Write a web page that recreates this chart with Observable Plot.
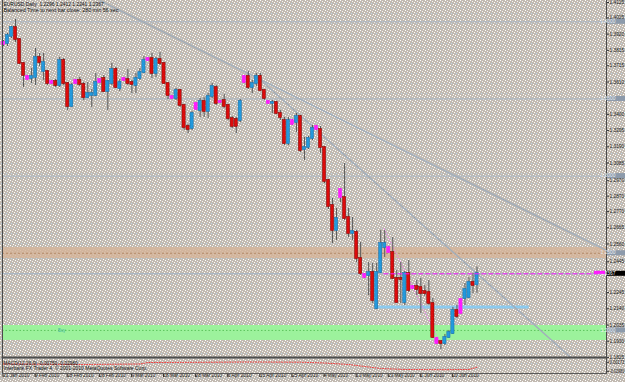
<!DOCTYPE html>
<html><head><meta charset="utf-8">
<script src="https://cdn.jsdelivr.net/npm/d3@7"></script>
<script src="https://cdn.jsdelivr.net/npm/@observablehq/plot@0.6"></script>
<style>
html,body{margin:0;padding:0;background:#c6bfb7;}
body{width:625px;height:382px;overflow:hidden;}
#chart{position:relative;width:625px;height:382px;background-color:#c3bbb2;
background-image:url("data:image/svg+xml,%3Csvg xmlns='http://www.w3.org/2000/svg' width='5' height='5'%3E%3Crect width='5' height='5' fill='%23c2bab1'/%3E%3Crect x='0' y='0' width='1' height='1' fill='%23ffffff'/%3E%3Crect x='2' y='1' width='1' height='1' fill='%23f6f6f6'/%3E%3Crect x='4' y='2' width='1' height='1' fill='%23ffffff'/%3E%3Crect x='1' y='3' width='1' height='1' fill='%23bcd6ea'/%3E%3Crect x='3' y='4' width='1' height='1' fill='%23ffffff'/%3E%3C/svg%3E");}
#chart svg{position:absolute;left:0;display:block;}
</style></head>
<body><div id="chart"></div>
<script>
// ---- data (EURUSD Daily, bars incl. Sunday sessions) ----
const open  = [1.3866,1.3859,1.3905,1.3963,1.3885,1.3730,1.3646,1.3633,1.3639,1.3769,1.3678,1.3678,1.3613,1.3613,1.3587,1.3749,1.3600,1.3451,1.3620,1.3620,1.3594,1.3509,1.3522,1.3522,1.3626,1.3633,1.3548,1.3600,1.3691,1.3568,1.3633,1.3626,1.3607,1.3587,1.3633,1.3671,1.3762,1.3762,1.3665,1.3756,1.3730,1.3600,1.3516,1.3503,1.3555,1.3458,1.3322,1.3309,1.3471,1.3425,1.3484,1.3419,1.3516,1.3574,1.3484,1.3490,1.3458,1.3373,1.3367,1.3360,1.3646,1.3646,1.3574,1.3600,1.3646,1.3555,1.3484,1.3471,1.3477,1.3406,1.3360,1.3211,1.3360,1.3347,1.3386,1.3172,1.3185,1.3244,1.3322,1.3302,1.3185,1.2972,1.2810,1.2648,1.2913,1.2861,1.2732,1.2628,1.2635,1.2466,1.2362,1.2356,1.2375,1.2142,1.2375,1.2537,1.2537,1.2505,1.2337,1.2337,1.2181,1.2369,1.2285,1.2285,1.2278,1.2252,1.2246,1.2175,1.1948,1.1928,1.1915,1.1954,1.1980,1.2129,1.2200,1.2207,1.2213,1.2311,1.2296];
const high  = [1.3879,1.3924,1.3970,1.4015,1.3892,1.3736,1.3652,1.3697,1.3827,1.3795,1.3795,1.3684,1.3620,1.3626,1.3769,1.3762,1.3607,1.3600,1.3626,1.3639,1.3607,1.3607,1.3561,1.3665,1.3633,1.3652,1.3620,1.3730,1.3704,1.3626,1.3639,1.3691,1.3620,1.3665,1.3697,1.3775,1.3769,1.3795,1.3769,1.3801,1.3736,1.3607,1.3522,1.3568,1.3561,1.3464,1.3335,1.3419,1.3477,1.3503,1.3509,1.3535,1.3600,1.3587,1.3490,1.3529,1.3464,1.3386,1.3380,1.3496,1.3652,1.3678,1.3620,1.3665,1.3665,1.3561,1.3490,1.3490,1.3484,1.3425,1.3380,1.3380,1.3367,1.3406,1.3393,1.3250,1.3257,1.3328,1.3328,1.3322,1.3192,1.2978,1.2855,1.2790,1.2920,1.3082,1.2790,1.2732,1.2648,1.2570,1.2369,1.2440,1.2434,1.2434,1.2648,1.2648,1.2544,1.2602,1.2388,1.2440,1.2382,1.2453,1.2291,1.2324,1.2337,1.2291,1.2324,1.2207,1.1954,1.1935,1.1974,1.2000,1.2149,1.2162,1.2207,1.2304,1.2343,1.2369,1.2412];
const low   = [1.3840,1.3840,1.3892,1.3866,1.3723,1.3574,1.3620,1.3600,1.3587,1.3710,1.3620,1.3587,1.3594,1.3574,1.3574,1.3587,1.3425,1.3445,1.3594,1.3581,1.3490,1.3503,1.3445,1.3516,1.3600,1.3542,1.3425,1.3587,1.3568,1.3548,1.3613,1.3587,1.3535,1.3535,1.3620,1.3665,1.3743,1.3633,1.3639,1.3717,1.3594,1.3496,1.3496,1.3490,1.3445,1.3296,1.3276,1.3296,1.3425,1.3380,1.3380,1.3373,1.3503,1.3458,1.3471,1.3438,1.3360,1.3309,1.3276,1.3347,1.3600,1.3561,1.3535,1.3581,1.3548,1.3490,1.3464,1.3406,1.3399,1.3360,1.3198,1.3198,1.3328,1.3283,1.3153,1.3101,1.3172,1.3231,1.3296,1.3147,1.2952,1.2784,1.2563,1.2583,1.2829,1.2712,1.2602,1.2583,1.2440,1.2356,1.2337,1.2226,1.2175,1.2136,1.2369,1.2473,1.2499,1.2330,1.2175,1.2175,1.2162,1.2246,1.2265,1.2226,1.2110,1.2220,1.2162,1.1948,1.1909,1.1876,1.1902,1.1948,1.1974,1.2077,1.2103,1.2162,1.2207,1.2239,1.2241];
const close = [1.3853,1.3911,1.3963,1.3885,1.3730,1.3652,1.3626,1.3646,1.3769,1.3736,1.3736,1.3600,1.3600,1.3587,1.3749,1.3600,1.3451,1.3587,1.3600,1.3594,1.3509,1.3535,1.3535,1.3607,1.3607,1.3548,1.3613,1.3691,1.3574,1.3607,1.3620,1.3600,1.3594,1.3633,1.3671,1.3749,1.3749,1.3665,1.3756,1.3730,1.3600,1.3522,1.3503,1.3555,1.3458,1.3315,1.3302,1.3406,1.3432,1.3484,1.3419,1.3516,1.3581,1.3471,1.3477,1.3451,1.3373,1.3322,1.3322,1.3484,1.3607,1.3574,1.3600,1.3646,1.3555,1.3503,1.3471,1.3477,1.3406,1.3380,1.3211,1.3360,1.3335,1.3386,1.3166,1.3185,1.3244,1.3309,1.3302,1.3185,1.2965,1.2803,1.2648,1.2725,1.2861,1.2725,1.2628,1.2641,1.2466,1.2369,1.2343,1.2375,1.2194,1.2375,1.2563,1.2563,1.2505,1.2337,1.2181,1.2330,1.2369,1.2259,1.2272,1.2265,1.2239,1.2239,1.2175,1.1954,1.1915,1.1915,1.1954,1.1987,1.2129,1.2090,1.2110,1.2265,1.2311,1.2291,1.2367];

const priceTicks = [1.4125,1.4025,1.3920,1.3815,1.3715,1.3610,1.3400,1.3295,1.3190,1.3085,1.2970,1.2870,1.2770,1.2665,1.2560,1.2445,1.2245,1.2140,1.2035,1.1930,1.1825];
const roundLevels = [1.40, 1.35, 1.30, 1.25, 1.20];
const resistanceZone = [1.2466, 1.2537];
const buyZone = [1.1935, 1.2032];
const supportLine = [{level: 1.2152, from: 93, to: 131}];
const trendLines = [
  {x1: 24.0, y1: 1.4138, x2: 150.27, y2: 1.2518},
  {x1: 62.8, y1: 1.3652, x2: 141.4, y2: 1.1825}
];
const pinkLines = [{x1: 94.8, y1: 1.2661, x2: 108.5, y2: 1.1935}];
const alertFrom = 94.8;

const dateTickBars = [0,8,16,24,32,40,48,56,64,72,80,88,96,104,112];
const dateLabels = ["31 Jan 2010","9 Feb 2010","18 Feb 2010","28 Feb 2010","9 Mar 2010","18 Mar 2010","28 Mar 2010","6 Apr 2010","15 Apr 2010","25 Apr 2010","4 May 2010","13 May 2010","23 May 2010","1 Jun 2010","10 Jun 2010"];

const signalBars   = [0, 20, 34, 36, 50, 60, 74, 80, 86, 90, 94, 100, 110, 116, 118];
const signalValues = [-0.0071,-0.0088,-0.0071,-0.0019,-0.0012,-0.0001,-0.0008,-0.0036,-0.0088,-0.0157,-0.0227,-0.0261,-0.0268,-0.0261,-0.0182];
const macdTicks = [0.00173, -0.02980];

const headerLine1 = "EURUSD,Daily  1.2296 1.2412 1.2241 1.2367";
const headerLine2 = "Balanced Time to next bar close: 280 min 56 sec";
const macdTitle = "MACD(12,26,9) -0.00750 -0.02980";
const copyright = "Interbank FX Trader 4, \u00a9 2001-2010 MetaQuotes Software Corp.";
const zoneLabel = "Buy";

// ---- build ----
const bars = open.map((o, i) => ({i, o, h: high[i], l: low[i], c: close[i],
  kind: i % 6 === 0 ? "sun" : (close[i] >= o ? "up" : "down")}));
const lastPrice = close[close.length - 1];
const fills = {up: "#2399dc", down: "#dd0b0b", sun: "#ff1cff"};
const strokes = {up: "#1b6da6", down: "#7d0606", sun: "#ff1cff"};
const xDomain = [-0.25, 150.27];
const font = "'Liberation Sans', Arial, sans-serif";
const inZone = (z) => roundLevels.filter(v => v >= z[0] && v <= z[1]);
const fmt4 = d => d.toFixed(4);
const baseStyle = {background: "transparent", fontFamily: font, fontSize: "5.5px", color: "#161616", overflow: "visible"};
const axisFont = 4.8;

const main = Plot.plot({
  width: 625, height: 357,
  marginTop: 0, marginBottom: 0, marginLeft: 2, marginRight: 19,
  x: {domain: xDomain, axis: null},
  y: {domain: [1.18246, 1.4138], axis: null},
  color: {type: "identity"},
  style: baseStyle,
  marks: [
    Plot.rect([resistanceZone], {y1: d => d[0], y2: d => d[1], fill: "#d5b398", fillOpacity: 0.82}),
    Plot.rect([buyZone], {y1: d => d[0], y2: d => d[1], fill: "#9cf29c"}),
    Plot.ruleY(roundLevels.filter(v => !inZone(resistanceZone).includes(v) && !inZone(buyZone).includes(v)), {stroke: "#a9b6c4", strokeWidth: 1}),
    Plot.ruleY(inZone(resistanceZone), {stroke: "#b58b69", strokeDasharray: "2,2"}),
    Plot.ruleY(inZone(buyZone), {stroke: "#5cc45c", strokeDasharray: "1.5,2"}),
    Plot.ruleY([lastPrice], {stroke: "#a2b4c6"}),
    Plot.ruleY(supportLine, {y: "level", x1: "from", x2: "to", stroke: "#8ccaee", strokeWidth: 3}),
    Plot.link(trendLines, {x1: "x1", y1: "y1", x2: "x2", y2: "y2", stroke: "#a2aebb", strokeWidth: 1.4}),
    Plot.link(pinkLines, {x1: "x1", y1: "y1", x2: "x2", y2: "y2", stroke: "#f27cf2", strokeDasharray: "1.5,1.5"}),
    Plot.ruleX(bars, {x: "i", y1: "l", y2: "h", stroke: "#595959", strokeWidth: 1}),
    Plot.rect(bars, {x1: d => d.i - 0.4, x2: d => d.i + 0.4,
      y1: d => Math.min(d.o, d.c), y2: d => Math.max(d.o, d.c),
      fill: d => fills[d.kind], stroke: d => strokes[d.kind], strokeWidth: 0.5,
      insetTop: -0.6, insetBottom: -0.6}),
    Plot.ruleY([lastPrice], {x1: alertFrom, x2: xDomain[1], stroke: "#ff1aff", strokeDasharray: "5,2"}),
    Plot.text([zoneLabel], {x: 13.6, y: roundLevels[4], text: d => d, textAnchor: "start", fill: "#3fb7a0"}),
    Plot.text([headerLine1], {frameAnchor: "top-left", dx: 1, dy: 2, lineAnchor: "top", text: d => d, fill: "#111"}),
    Plot.text([headerLine2], {frameAnchor: "top-left", dx: 1, dy: 7.5, lineAnchor: "top", text: d => d, fill: "#111"}),
    Plot.axisY(priceTicks, {anchor: "right", label: null, tickSize: 2, tickPadding: 1, fontSize: axisFont, tickFormat: fmt4, stroke: "#333", fill: "#1a1a1a"}),
    Plot.frame({anchor: "left", stroke: "#4a4a4a"}),
    Plot.frame({anchor: "right", stroke: "#4a4a4a"}),
    Plot.frame({anchor: "bottom", stroke: "#4d4d4d", strokeWidth: 2})
  ]
});

const sub = Plot.plot({
  width: 625, height: 25,
  marginTop: 1, marginBottom: 9, marginLeft: 2, marginRight: 19,
  x: {domain: xDomain, axis: null},
  y: {domain: [-0.040, 0.012], axis: null},
  style: baseStyle,
  marks: [
    Plot.line(signalBars.map((b, k) => ({b, v: signalValues[k]})), {x: "b", y: "v", stroke: "#f03c3c", strokeDasharray: "1,1.6", strokeWidth: 1}),
    Plot.text([macdTitle], {frameAnchor: "top-left", dx: 1, dy: 2.5, lineAnchor: "top", text: d => d, fill: "#111"}),
    Plot.text([copyright], {frameAnchor: "top-left", dx: 1, dy: 8, lineAnchor: "top", text: d => d, fill: "#111"}),
    Plot.axisY(macdTicks, {anchor: "right", label: null, tickSize: 2, tickPadding: 1, dy: 0.8, fontSize: axisFont, tickFormat: d => d.toFixed(5), stroke: "#333", fill: "#1a1a1a"}),
    Plot.axisX(dateTickBars.map(b => b - 0.5), {anchor: "bottom", label: null, tickSize: 4, tickPadding: -4,
      textAnchor: "start", dx: 1.5, tickFormat: d => dateLabels[dateTickBars.indexOf(d + 0.5)], stroke: "#333", fill: "#1a1a1a"}),
    Plot.frame({anchor: "left", stroke: "#4a4a4a"}),
    Plot.frame({anchor: "right", stroke: "#4a4a4a"}),
    Plot.frame({anchor: "bottom", stroke: "#5a5a5a"})
  ]
});

// axis highlight boxes (round levels and last price) placed with the plot's y scale
const ysc = main.scale("y");
const g = d3.select(main).append("g");
function box(v, fill, color) {
  const y = ysc.apply(v);
  g.append("rect").attr("x", 607).attr("y", y - 2.5).attr("width", 18).attr("height", 5).attr("fill", fill);
  g.append("text").attr("transform", `translate(608,${y})`).attr("dy", "0.35em").attr("font-size", axisFont)
    .attr("fill", color).attr("class", "axbox").text(fmt4(v));
}
roundLevels.forEach(v => box(v, "#8c9aab", "#eef2f6"));
box(lastPrice, "#000", "#fff");
{
  const y = ysc.apply(lastPrice);
  g.append("rect").attr("x", 594).attr("y", y - 2.5).attr("width", 11).attr("height", 3).attr("fill", "#ff1aff");
}

main.style.top = "0px"; main.style.zIndex = 2;
sub.style.top = "357px"; sub.style.zIndex = 1;
document.getElementById("chart").append(sub, main);

// narrow the small MetaTrader-like texts horizontally (scale about each text's anchor)
function squeeze(svg, perChar) {
  d3.select(svg).selectAll("text").each(function () {
    const t = this.textContent;
    if (!t) return;
    const nat = this.getComputedTextLength();
    if (!nat) return;
    const inAxis = this.closest('g[aria-label="y-axis tick label"]') || this.getAttribute("class") === "axbox";
    const w = inAxis ? Math.min(t.length * perChar, 14.8) : t.length * perChar;
    const s = Math.min(1, w / nat);
    const x = +this.getAttribute("x") || 0;
    const tr = this.getAttribute("transform") || "";
    this.setAttribute("transform", `${tr} translate(${x},0) scale(${s.toFixed(4)},1) translate(${-x},0)`);
  });
}
squeeze(main, 2.45);
squeeze(sub, 2.4);
</script></body></html>
